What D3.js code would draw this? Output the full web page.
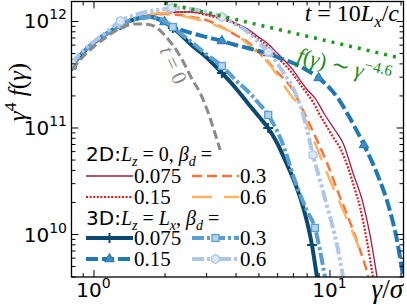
<!DOCTYPE html>
<html>
<head>
<meta charset="utf-8">
<script src="https://cdn.jsdelivr.net/npm/d3@7"></script>
<style>
  body { margin: 0; background: #fff; }
  svg { display: block; }
</style>
</head>
<body>
<svg id="chart" width="407" height="305"></svg>
<script>
// ---- data (gamma / sigma, gamma^4 f(gamma)) ----
const gammaT0 = [0.81, 0.9, 1.0, 1.15, 1.3, 1.5, 1.62, 1.75, 1.86, 2.0, 2.15, 2.3, 2.44, 2.6, 2.83, 3.0, 3.21, 3.44];
const valT0 = [3.47e11, 4.59e11, 5.70e11, 7.23e11, 8.60e11, 9.37e11, 9.37e11, 9.17e11, 8.60e11, 7.39e11, 6.08e11, 4.90e11, 3.86e11, 2.92e11, 2.11e11, 1.56e11, 1.01e11, 6.15e10];

const gamma2D075 = [0.81, 0.9, 1.0, 1.15, 1.3, 1.5, 1.75, 2.0, 2.3, 2.6, 3.0, 3.5, 4.0, 4.5, 5.0, 5.5, 6.0, 6.48, 7.0, 7.5, 8.0, 8.68, 9.57, 10.55, 11.41, 12.58, 13.87, 14.85, 15.9, 16.1];
const val2D075 = [3.78e11, 5.01e11, 6.22e11, 7.71e11, 9.17e11, 1.044e12, 1.138e12, 1.189e12, 1.215e12, 1.215e12, 1.163e12, 1.067e12, 9.58e11, 8.41e11, 7.08e11, 6.08e11, 5.01e11, 4.21e11, 3.47e11, 2.79e11, 2.30e11, 1.89e11, 1.31e11, 9.47e10, 7.15e10, 3.74e10, 1.95e10, 9.79e9, 3.95e9, 3.3e9];

const gamma2D015 = [0.81, 0.9, 1.0, 1.15, 1.3, 1.5, 1.75, 2.0, 2.3, 2.6, 3.0, 3.5, 4.0, 4.5, 5.0, 5.5, 6.0, 6.48, 7.0, 7.5, 8.0, 8.51, 9.11, 9.76, 10.35, 11.08, 12.0, 12.83, 13.47, 14.28, 15.29, 15.5];
const val2D015 = [3.78e11, 5.01e11, 6.22e11, 7.71e11, 9.17e11, 1.044e12, 1.138e12, 1.189e12, 1.215e12, 1.215e12, 1.138e12, 1.044e12, 9.37e11, 8.06e11, 6.78e11, 5.70e11, 4.59e11, 3.86e11, 3.18e11, 2.56e11, 2.11e11, 1.74e11, 1.31e11, 1.01e11, 8.14e10, 6.42e10, 4.17e10, 2.59e10, 1.79e10, 9.58e9, 3.95e9, 3.3e9];

const gamma2D03 = [0.81, 0.9, 1.0, 1.15, 1.3, 1.5, 1.75, 2.0, 2.3, 2.6, 3.0, 3.5, 4.0, 4.5, 5.0, 5.5, 6.0, 6.48, 7.0, 7.5, 8.0, 8.85, 9.76, 11.08, 12.21, 13.47, 14.42, 14.7];
const val2D03 = [3.78e11, 5.01e11, 6.22e11, 7.71e11, 9.17e11, 1.044e12, 1.138e12, 1.163e12, 1.138e12, 1.09e12, 1.022e12, 8.78e11, 7.39e11, 6.35e11, 5.12e11, 4.12e11, 3.32e11, 2.79e11, 2.25e11, 1.66e11, 1.23e11, 7.63e10, 4.64e10, 2.22e10, 1.30e10, 7.08e9, 4.40e9, 3.70e9];

const gamma2D06 = [0.81, 0.9, 1.0, 1.15, 1.3, 1.5, 1.75, 2.0, 2.3, 2.6, 3.0, 3.5, 4.0, 4.5, 5.0, 5.5, 6.0, 6.48, 7.0, 7.5, 8.0, 8.85, 9.76, 11.08, 12.58, 13.87];
const val2D06 = [3.78e11, 5.01e11, 6.22e11, 7.71e11, 9.17e11, 1.044e12, 1.163e12, 1.189e12, 1.138e12, 1.067e12, 9.79e11, 8.60e11, 7.55e11, 6.08e11, 4.90e11, 4.03e11, 3.11e11, 2.40e11, 1.89e11, 1.56e11, 1.10e11, 6.42e10, 3.74e10, 1.95e10, 1.02e10, 5.95e9];

const gamma3D075 = [0.81, 0.9, 1.0, 1.15, 1.3, 1.5, 1.75, 2.0, 2.17, 2.3, 2.6, 3.0, 3.5, 4.0, 4.5, 5.0, 5.5, 6.0, 6.48, 7.0, 7.5, 8.0, 8.43, 8.85, 8.96];
const val3D075 = [3.78e11, 5.01e11, 6.22e11, 7.71e11, 9.17e11, 1.044e12, 1.09e12, 9.79e11, 8.60e11, 7.71e11, 5.95e11, 4.59e11, 3.25e11, 2.35e11, 1.70e11, 1.28e11, 9.89e10, 7.15e10, 4.95e10, 3.36e10, 2.22e10, 1.35e10, 7.88e9, 3.95e9, 3.3e9];
const marks3D075 = [0.81, 1.3, 2.17, 3.5, 5.5, 8.43];

const gamma3D015 = [0.81, 0.9, 1.0, 1.15, 1.3, 1.5, 1.75, 2.0, 2.3, 2.6, 3.0, 3.5, 4.0, 4.5, 5.0, 5.5, 6.0, 7.0, 8.0, 9.0, 10, 11, 12, 14, 16, 18, 19.32, 20.5, 20.8];
const val3D015 = [3.78e11, 5.01e11, 6.22e11, 7.71e11, 9.17e11, 1.044e12, 1.09e12, 9.79e11, 8.41e11, 7.71e11, 7.08e11, 6.49e11, 5.95e11, 5.58e11, 5.23e11, 5.01e11, 4.59e11, 4.03e11, 3.47e11, 2.92e11, 2.35e11, 1.81e11, 1.31e11, 6.85e10, 3.58e10, 1.68e10, 8.78e9, 4.12e9, 3.5e9];
const marks3D015 = [0.81, 1.3, 2.0, 3.5, 5.5, 9.0, 14];

const gamma3D03 = [0.81, 0.9, 1.0, 1.15, 1.3, 1.5, 1.75, 2.0, 2.17, 2.3, 2.6, 3.0, 3.5, 4.0, 4.5, 5.0, 5.5, 6.0, 6.48, 7.0, 8.0, 8.68, 9.11, 9.57, 9.71];
const val3D03 = [3.78e11, 5.01e11, 6.22e11, 7.71e11, 9.17e11, 1.044e12, 1.09e12, 1.0e12, 8.78e11, 7.88e11, 6.35e11, 4.90e11, 3.78e11, 2.79e11, 2.20e11, 1.70e11, 1.31e11, 9.27e10, 6.15e10, 3.58e10, 1.68e10, 1.14e10, 7.08e9, 3.95e9, 3.3e9];
const marks3D03 = [0.81, 1.3, 2.17, 3.5, 5.5, 8.68];

const gamma3D06 = [0.81, 0.9, 1.0, 1.15, 1.3, 1.5, 1.75, 2.0, 2.15, 2.3, 2.6, 3.0, 3.5, 4.0, 4.5, 5.0, 5.5, 6.0, 6.48, 7.0, 7.5, 8.0, 8.51, 9.11, 9.76, 10.35, 10.87, 11.41, 11.55];
const val3D06 = [4.03e11, 5.23e11, 6.35e11, 8.06e11, 1.0e12, 1.138e12, 1.241e12, 1.296e12, 1.325e12, 1.325e12, 1.296e12, 1.215e12, 1.09e12, 9.37e11, 7.88e11, 6.35e11, 5.12e11, 4.03e11, 3.11e11, 2.35e11, 1.63e11, 9.89e10, 5.52e10, 3.21e10, 1.83e10, 1.14e10, 7.08e9, 3.95e9, 3.3e9];
const marks3D06 = [0.81, 1.3, 2.15, 3.5, 5.5, 8.51];

// power law guide line, two ends
const gammaFit = [2.01, 19.9];
const valFit = [1.476e12, 4.50e11];

// axes
const xLimits = [0.807, 20.59];
const yLimits = [3.947e9, 1.524e12];
const xMajor = [1, 10];
const xMajorExp = ["0", "1"];
const xMinor = [0.9, 2, 3, 4, 5, 6, 7, 8, 9, 20];
const yMajor = [1e10, 1e11, 1e12];
const yMajorExp = ["10", "11", "12"];
const yMinor = [4e9, 5e9, 6e9, 7e9, 8e9, 9e9, 2e10, 3e10, 4e10, 5e10, 6e10, 7e10, 8e10, 9e10,
                2e11, 3e11, 4e11, 5e11, 6e11, 7e11, 8e11, 9e11];

const SERIF = "'Liberation Serif', 'DejaVu Serif', serif";
const SANS = "'DejaVu Sans', sans-serif";

// line styles
const series2D = [
    { label: "0.075", g: gamma2D075, v: val2D075, color: "#a11a4a", width: 1.3, dash: null },
    { label: "0.15", g: gamma2D015, v: val2D015, color: "#e31a1c", width: 2.2, dash: "2,1.6" },
    { label: "0.3", g: gamma2D03, v: val2D03, color: "#f8743a", width: 2.5, dash: "10,5" },
    { label: "0.6", g: gamma2D06, v: val2D06, color: "#fdb462", width: 2.5, dash: "20,12" },
];
const series3D = [
    { label: "0.075", g: gamma3D075, v: val3D075, marks: marks3D075, color: "#0a4a72", width: 4, dash: null, marker: "plus" },
    { label: "0.15", g: gamma3D015, v: val3D015, marks: marks3D015, color: "#1f77b4", width: 4, dash: "12,4", marker: "tri" },
    { label: "0.3", g: gamma3D03, v: val3D03, marks: marks3D03, color: "#5a9fd4", width: 4, dash: "12,3,3,3", marker: "square" },
    { label: "0.6", g: gamma3D06, v: val3D06, marks: marks3D06, color: "#aec7e8", width: 4, dash: "12,3,3,3,3,3", marker: "hex" },
];

const margin = { top: 1.5, right: 3.5, bottom: 28, left: 71.5 };
const width = 407 - margin.left - margin.right;
const height = 305 - margin.top - margin.bottom;

const svg = d3.select("#chart");
const g = svg.append("g").attr("transform", `translate(${margin.left}, ${margin.top})`);

const xScale = d3.scaleLog().domain(xLimits).range([0, width]);
const yScale = d3.scaleLog().domain(yLimits).range([height, 0]);

g.append("clipPath").attr("id", "plotclip")
    .append("rect").attr("width", width).attr("height", height);

const plot = g.append("g").attr("clip-path", "url(#plotclip)");

const line = d3.line()
    .x(d => xScale(d[0]))
    .y(d => yScale(d[1]))
    .curve(d3.curveMonotoneX);

function zipped(s) { return s.g.map((x, i) => [x, s.v[i]]); }

function drawMarker(sel, type, color, cx, cy) {
    if (type === "plus") {
        sel.append("path").attr("d", `M${cx - 5},${cy}H${cx + 5}M${cx},${cy - 5}V${cy + 5}`)
            .attr("stroke", color).attr("stroke-width", 2);
    } else if (type === "tri") {
        sel.append("path").attr("d", d3.symbol(d3.symbolTriangle, 40)())
            .attr("transform", `translate(${cx},${cy})`)
            .attr("fill", "#3f8cc6").attr("stroke", color).attr("stroke-width", 1);
    } else if (type === "square") {
        sel.append("rect").attr("x", cx - 3.5).attr("y", cy - 3.5).attr("width", 7).attr("height", 7)
            .attr("fill", "#b4d3ec").attr("stroke", color).attr("stroke-width", 1.3);
    } else if (type === "hex") {
        const pts = d3.range(6).map(k => {
            const a = Math.PI / 6 + k * Math.PI / 3;
            return [cx + 4.5 * Math.cos(a), cy + 4.5 * Math.sin(a)];
        });
        sel.append("path").attr("d", "M" + pts.join("L") + "Z")
            .attr("fill", "#dbe7f5").attr("stroke", color).attr("stroke-width", 1.4);
    }
}

// 2D curves
series2D.forEach(s => {
    plot.append("path").datum(zipped(s))
        .attr("d", line).attr("fill", "none")
        .attr("stroke", s.color).attr("stroke-width", s.width)
        .attr("stroke-dasharray", s.dash);
});

// 3D curves with markers
series3D.forEach(s => {
    plot.append("path").datum(zipped(s))
        .attr("d", line).attr("fill", "none")
        .attr("stroke", s.color).attr("stroke-width", s.width)
        .attr("stroke-dasharray", s.dash);
    zipped(s).filter(d => s.marks.includes(d[0])).forEach(d => {
        drawMarker(plot, s.marker, s.color, xScale(d[0]), yScale(d[1]));
    });
});

// initial spectrum
plot.append("path").datum(gammaT0.map((x, i) => [x, valT0[i]]))
    .attr("d", line).attr("fill", "none")
    .attr("stroke", "#8a8a8a").attr("stroke-width", 3)
    .attr("stroke-dasharray", "9,4");

// power law guide
plot.append("path").datum(gammaFit.map((x, i) => [x, valFit[i]]))
    .attr("d", d3.line().x(d => xScale(d[0])).y(d => yScale(d[1])))
    .attr("fill", "none").attr("stroke", "#1a9a1a").attr("stroke-width", 3.5)
    .attr("stroke-dasharray", "3,6");

// ---- axes: inward ticks on every side ----
function ticks(axisFn, vals, size, transform) {
    const a = g.append("g").attr("transform", transform || null)
        .call(axisFn.tickValues(vals).tickSize(-size).tickFormat(""));
    a.select(".domain").remove();
    a.selectAll("line").attr("stroke", "#000").attr("stroke-width", 1);
}
ticks(d3.axisBottom(xScale), xMajor, 7, `translate(0,${height})`);
ticks(d3.axisBottom(xScale), xMinor, 4, `translate(0,${height})`);
ticks(d3.axisTop(xScale), xMajor, 7);
ticks(d3.axisTop(xScale), xMinor, 4);
ticks(d3.axisLeft(yScale), yMajor, 7);
ticks(d3.axisLeft(yScale), yMinor, 4);
ticks(d3.axisRight(yScale), yMajor, 7, `translate(${width},0)`);
ticks(d3.axisRight(yScale), yMinor, 4, `translate(${width},0)`);

g.append("rect").attr("width", width).attr("height", height)
    .attr("fill", "none").attr("stroke", "#000").attr("stroke-width", 1.3);

// tick labels as 10^n
xMajor.forEach((v, i) => {
    const t = g.append("text").attr("x", xScale(v)).attr("y", height + 20)
        .attr("text-anchor", "middle").style("font-family", SANS).style("font-size", "20px");
    t.append("tspan").text("10");
    t.append("tspan").attr("dy", -9).style("font-size", "14px").text(xMajorExp[i]);
});
yMajor.forEach((v, i) => {
    const t = g.append("text").attr("x", -4.5).attr("y", yScale(v) + 7.5)
        .attr("text-anchor", "end").style("font-family", SANS).style("font-size", "20px");
    t.append("tspan").text("10");
    t.append("tspan").attr("dy", -9).style("font-size", "14px").text(yMajorExp[i]);
});

// rich text helper: parts {t, i (italic), sub, sup, sans}
function rich(sel, parts, size) {
    let shift = 0;
    parts.forEach(p => {
        const target = p.sub ? size * 0.25 : p.sup ? -size * 0.42 : 0;
        const ts = sel.append("tspan")
            .style("font-family", p.sans ? SANS : SERIF)
            .style("font-style", p.i ? "italic" : "normal")
            .style("font-size", (p.sub || p.sup ? size * 0.7 : size) + "px")
            .text(p.t);
        if (target !== shift) { ts.attr("dy", target - shift); shift = target; }
    });
    return sel;
}

// axis titles
rich(svg.append("text").attr("transform", "translate(26,92) rotate(-90)")
    .attr("text-anchor", "middle"),
    [{ t: "γ", i: true }, { t: "4", sup: true }, { t: " " }, { t: "f", i: true }, { t: "(" }, { t: "γ", i: true }, { t: ")" }], 25);

rich(svg.append("text").attr("x", 403).attr("y", 298).attr("text-anchor", "end"),
    [{ t: "γ", i: true }, { t: "/" }, { t: "σ", i: true }], 27);

// annotations
rich(svg.append("text").attr("x", 399).attr("y", 21).attr("text-anchor", "end"),
    [{ t: "t", i: true }, { t: " = 10" }, { t: "L", i: true }, { t: "x", i: true, sub: true }, { t: "/" }, { t: "c", i: true }], 24);

rich(svg.append("text").attr("transform", "translate(296,62) rotate(14)").attr("fill", "#1a8a1a"),
    [{ t: "f", i: true }, { t: "(" }, { t: "γ", i: true }, { t: ") ∼ " }, { t: "γ", i: true }, { t: "−4.6", sup: true }], 22);

rich(svg.append("text").attr("transform", "translate(167,68) rotate(66)")
    .attr("text-anchor", "middle").attr("fill", "#8a8a8a"),
    [{ t: "t", i: true }, { t: " = 0" }], 21);

// ---- legends ----
const legX = [86, 192];
const legLen = 47;

function legendBlock(titleParts, titleY, rowsY, list, withMarkers) {
    rich(svg.append("text").attr("x", 86).attr("y", titleY), titleParts, 20);
    list.forEach((s, k) => {
        const col = Math.floor(k / 2), row = k % 2;
        const x0 = legX[col], yy = rowsY[row];
        svg.append("line").attr("x1", x0).attr("x2", x0 + legLen).attr("y1", yy).attr("y2", yy)
            .attr("stroke", s.color).attr("stroke-width", s.width).attr("stroke-dasharray", s.dash);
        if (withMarkers) drawMarker(svg, s.marker, s.color, x0 + legLen / 2, yy);
        svg.append("text").attr("x", x0 + legLen + 1).attr("y", yy + 7)
            .style("font-family", SERIF).style("font-size", "21px").text(s.label);
    });
}

legendBlock([{ t: "2D:", sans: true }, { t: "L", i: true }, { t: "z", i: true, sub: true }, { t: " = 0, " },
    { t: "β", i: true }, { t: "d", i: true, sub: true }, { t: " =" }], 161, [176, 197], series2D, false);
legendBlock([{ t: "3D:", sans: true }, { t: "L", i: true }, { t: "z", i: true, sub: true }, { t: " = " },
    { t: "L", i: true }, { t: "x", i: true, sub: true }, { t: ", " },
    { t: "β", i: true }, { t: "d", i: true, sub: true }, { t: " =" }], 225, [238, 259], series3D, true);
</script>
</body>
</html>
